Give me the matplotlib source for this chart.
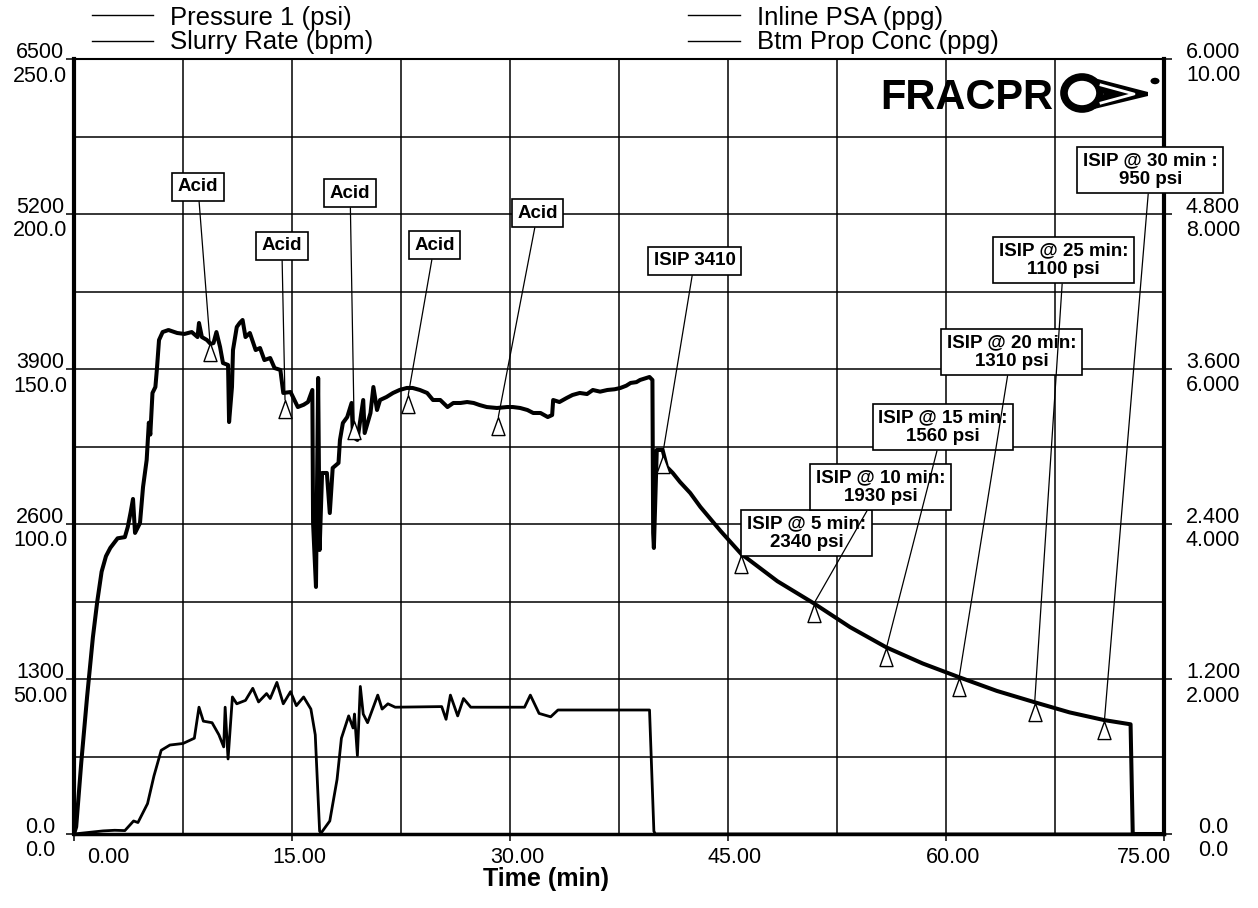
import numpy as np
import matplotlib
matplotlib.use('Agg')
import matplotlib.pyplot as plt
from matplotlib.lines import Line2D
from matplotlib.patches import Polygon, Ellipse, Circle
from matplotlib.path import Path

plt.rcParams['font.family'] = ['Liberation Sans', 'DejaVu Sans']

# ---- data ----
# Pressure 1 (psi) vs time (min)
p_time = [0.0, 0.15, 0.5, 0.9, 1.3, 1.6, 1.9, 2.2, 2.5, 3.0, 3.5, 3.7, 3.9, 4.06,
          4.2, 4.54, 4.75, 5.0, 5.15, 5.25, 5.4, 5.6, 5.7, 5.85, 6.1, 6.5, 7.1,
          7.6, 8.1, 8.5, 8.6, 8.8, 9.15, 9.4, 9.6, 9.8, 10.05, 10.25, 10.6, 10.67,
          10.87, 10.94, 11.2, 11.4, 11.6, 11.8, 12.1, 12.5, 12.8, 13.1, 13.5, 13.8,
          14.2, 14.4, 14.9, 15.4, 15.8, 16.1, 16.4, 16.45, 16.65, 16.8, 16.9, 17.07,
          17.4, 17.6, 17.8, 18.2, 18.3, 18.5, 18.8, 19.1, 19.2, 19.5, 19.7, 19.9,
          20.0, 20.4, 20.6, 20.85, 21.06, 21.5, 21.95, 22.4, 22.9, 23.3, 23.8, 24.3,
          24.7, 25.2, 25.7, 26.1, 26.6, 27.05, 27.5, 27.9, 28.4, 29.1, 29.8, 30.2,
          30.7, 31.2, 31.6, 32.1, 32.6, 32.9, 32.97, 33.4, 33.9, 34.3, 34.8, 35.3,
          35.7, 36.2, 36.7, 37.2, 37.6, 38.0, 38.3, 38.7, 38.95, 39.4, 39.6, 39.8,
          39.85, 39.9, 40.1, 40.5, 40.8, 41.2, 41.7, 42.4, 43.1, 44.5, 45.9, 48.4,
          50.9, 53.4, 55.9, 58.4, 60.9, 63.5, 66.1, 68.5, 70.9, 72.7, 72.85, 75.0]
p_psi = [0, 60, 600, 1150, 1650, 1950, 2200, 2330, 2400, 2480, 2490, 2575, 2700, 2810,
         2525, 2608, 2910, 3137, 3450, 3350, 3699, 3749, 3892, 4143, 4210, 4227, 4202,
         4194, 4210, 4168, 4286, 4168, 4143, 4110, 4118, 4210, 4085, 3950, 3934, 3455,
         3749, 4059, 4252, 4286, 4311, 4168, 4202, 4059, 4076, 3975, 3992, 3908,
         3892, 3699, 3707, 3581, 3600, 3623, 3724, 2609, 2072, 3825, 2382, 3028,
         3028, 2692, 3070, 3112, 3305, 3447, 3497, 3615, 3330, 3305, 3472, 3640,
         3363, 3531, 3749, 3556, 3640, 3665, 3699, 3724, 3741, 3741, 3724, 3699,
         3640, 3640, 3581, 3615, 3615, 3623, 3615, 3598, 3581, 3573, 3581, 3581,
         3573, 3556, 3531, 3531, 3497, 3514, 3640, 3623, 3657, 3682, 3699, 3690,
         3724, 3710, 3724, 3730, 3741, 3760, 3783, 3790, 3808, 3825, 3833, 3808,
         2525, 2399, 3221, 3221, 3078, 3028, 2952, 2860, 2743, 2540, 2350, 2120,
         1935, 1735, 1565, 1430, 1315, 1200, 1105, 1020, 955, 920, 0, 0]
assert len(p_time) == len(p_psi)

# Slurry Rate (bpm)
r_time = [0.0, 1.0, 2.0, 2.8, 3.5, 4.1, 4.4, 5.06, 5.5, 6.0, 6.6, 7.5, 8.28, 8.6, 8.9,
          9.5, 9.97, 10.3, 10.4, 10.6, 10.9, 11.2, 11.8, 12.3, 12.7, 13.25, 13.5,
          13.96, 14.4, 14.9, 15.3, 15.8, 16.3, 16.6, 16.9, 17.0, 17.6, 18.1, 18.4,
          18.9, 19.2, 19.3, 19.5, 19.7, 19.9, 20.2, 20.9, 21.2, 21.6, 22.1, 25.3,
          25.6, 25.9, 26.4, 26.8, 27.3, 31.0, 31.4, 32.0, 32.8, 33.3, 39.6, 39.9,
          40.0, 75.0]
r_bpm = [0, 0.5, 1.0, 1.2, 1.1, 4.2, 3.7, 9.8, 18.7, 27.0, 28.7, 29.2, 30.9, 40.9, 36.4,
         35.9, 32.0, 28.1, 40.9, 24.2, 44.2, 42.0, 43.1, 47.0, 42.6, 45.3, 43.7,
         48.9, 42.0, 45.9, 41.4, 44.2, 40.3, 32.0, 0.9, 0.3, 4.2, 17.6, 30.9,
         38.1, 34.2, 38.7, 25.3, 47.6, 38.7, 35.9, 44.8, 40.3, 42.0, 40.9, 41.1,
         37.0, 44.8, 38.1, 43.7, 40.9, 40.9, 44.8, 38.9, 37.8, 40.0, 40.0, 0.9,
         0, 0]
assert len(r_time) == len(r_bpm)

# Inline PSA and Btm Prop Conc stay at zero for the whole job
psa_time = [0.0, 75.0]
psa_ppg = [0.0, 0.0]
bpc_time = [0.0, 75.0]
bpc_ppg = [0.0, 0.0]

# event markers
acid_t = [9.36, 14.52, 19.27, 23.0, 29.2]
acid_p = [4119, 3641, 3465, 3683, 3500]
acid_box = [(8.53, 5427), (14.3, 4932), (19.0, 5376), (24.8, 4940), (31.9, 5208)]

isip_t = [40.5, 45.9, 50.9, 55.9, 60.9, 66.1, 70.9]
isip_p = [3180, 2340, 1930, 1560, 1310, 1100, 950]
isip_labels = ['ISIP 3410', 'ISIP @ 5 min:\n2340 psi', 'ISIP @ 10 min:\n1930 psi',
               'ISIP @ 15 min:\n1560 psi', 'ISIP @ 20 min:\n1310 psi',
               'ISIP @ 25 min:\n1100 psi', 'ISIP @ 30 min :\n950 psi']
isip_box = [(42.7, 4806), (50.4, 2525), (55.5, 2910), (59.8, 3414), (64.5, 4043),
            (68.1, 4814), (74.05, 5569)]

# axis ticks
x_major = [0, 15, 30, 45, 60, 75]
x_labels = ['0.00', '15.00', '30.00', '45.00', '60.00', '75.00']
x_grid = [7.5, 22.5, 37.5, 52.5, 67.5]
p_ticks = [0, 1300, 2600, 3900, 5200, 6500]
p_labels = ['0.0', '1300', '2600', '3900', '5200', '6500']
r_ticks = [0, 50, 100, 150, 200, 250]
r_labels = ['0.0', '50.00', '100.0', '150.0', '200.0', '250.0']
psa_ticks = [0, 1.2, 2.4, 3.6, 4.8, 6.0]
psa_labels = ['0.0', '1.200', '2.400', '3.600', '4.800', '6.000']
bpc_ticks = [0, 2, 4, 6, 8, 10]
bpc_labels = ['0.0', '2.000', '4.000', '6.000', '8.000', '10.00']

# ---- figure ----
W, H = 1258, 908
fig = plt.figure(figsize=(W / 100, H / 100), dpi=100)


def fx(px):
    return px / W


def fy(py):
    return 1 - py / H


ax = fig.add_axes([fx(74), fy(834), fx(1164) - fx(74), fy(59) - fy(834)])
ax_rate = ax.twinx()
ax_psa = ax.twinx()
ax_bpc = ax.twinx()

ax.set_xlim(0, 75)
ax.set_ylim(0, 6500)
ax_rate.set_ylim(0, 250)
ax_psa.set_ylim(0, 6)
ax_bpc.set_ylim(0, 10)
for a in (ax_rate, ax_psa, ax_bpc):
    a.axis('off')

ax.set_xticks(x_major, labels=[''] * len(x_major))
ax.set_xticks(x_grid, minor=True)
ax.set_yticks(p_ticks, labels=[''] * len(p_ticks))
ax.set_yticks([650, 1950, 3250, 4550, 5850], minor=True)
ax.grid(True, which='both', color='black', linewidth=1.1)
ax.tick_params(which='minor', length=0)
ax.tick_params(axis='y', which='major', left=True, right=True, length=6, width=1.1)
ax.tick_params(axis='x', which='major', length=5, width=1.1)
for side, lw in (('left', 3.0), ('right', 3.0), ('bottom', 2.5), ('top', 1.5)):
    ax.spines[side].set_linewidth(lw)

# curves
ax.plot(p_time, p_psi, color='black', lw=2.9, solid_joinstyle='round', zorder=3)
ax_rate.plot(r_time, r_bpm, color='black', lw=2.0, solid_joinstyle='round')
ax_psa.plot(psa_time, psa_ppg, color='black', lw=2.0, clip_on=False)
ax_bpc.plot(bpc_time, bpc_ppg, color='black', lw=2.0, clip_on=False)

# open triangles with apex on the curve
tri = Path([(0, 0), (-0.36, -1), (0.36, -1), (0, 0)],
           [Path.MOVETO, Path.LINETO, Path.LINETO, Path.CLOSEPOLY])
mk = dict(linestyle='none', marker=tri, markersize=26, markerfacecolor='white',
          markeredgecolor='black', markeredgewidth=1.0, zorder=5)
ax.plot(acid_t, acid_p, **mk)
ax.plot(isip_t, isip_p, **mk)

box = dict(boxstyle='square,pad=0.3', fc='white', ec='black', lw=1.2)
leader = dict(arrowstyle='-', color='black', lw=0.9, shrinkA=0, shrinkB=0)
for t, p, pos in zip(acid_t, acid_p, acid_box):
    ax.annotate('Acid', xy=(t, p), xytext=pos, ha='center', va='center',
                fontsize=13.5, fontweight='bold', bbox=box, arrowprops=leader, zorder=6)
for t, p, pos, lbl in zip(isip_t, isip_p, isip_box, isip_labels):
    ax.annotate(lbl, xy=(t, p), xytext=pos, ha='center', va='center',
                multialignment='center', fontsize=13.5, fontweight='bold',
                linespacing=1.1, bbox=box, arrowprops=leader, zorder=6)

# stacked axis labels
lx = (40 - 74) / (1164 - 74)
rx = (1213 - 74) / (1164 - 74)
for a, ticks, labels, x, dy in ((ax, p_ticks, p_labels, lx, 0.7),
                                (ax_rate, r_ticks, r_labels, lx, -16.2),
                                (ax_psa, psa_ticks, psa_labels, rx, 0.7),
                                (ax_bpc, bpc_ticks, bpc_labels, rx, -16.2)):
    for v, s in zip(ticks, labels):
        a.annotate(s, xy=(x, v), xycoords=('axes fraction', 'data'),
                   xytext=(0, dy), textcoords='offset points',
                   ha='center', va='baseline', fontsize=15.5)

for i, (t, s) in enumerate(zip(x_major, x_labels)):
    if i == 0:
        ha, dx = 'left', 9.4
    elif i == len(x_major) - 1:
        ha, dx = 'right', 5.0
    else:
        ha, dx = 'center', 5.0
    ax.annotate(s, xy=(t, 0), xycoords=('data', 'axes fraction'),
                xytext=(dx, -20.9), textcoords='offset points',
                ha=ha, va='baseline', fontsize=15.5)

fig.text(fx(546), fy(886), 'Time (min)', ha='center', va='baseline',
         fontsize=18, fontweight='bold')

# legend
legend_rows = [(92, 153, 170, 15, 25, 'Pressure 1 (psi)'),
               (92, 153, 170, 41, 49, 'Slurry Rate (bpm)'),
               (688, 740, 757, 15, 25, 'Inline PSA (ppg)'),
               (688, 740, 757, 41, 49, 'Btm Prop Conc (ppg)')]
for x0, x1, xt, yl, yt, lbl in legend_rows:
    fig.add_artist(Line2D([fx(x0), fx(x1)], [fy(yl), fy(yl)], color='black', lw=1.0))
    fig.text(fx(xt), fy(yt), lbl, fontsize=18.5, va='baseline')

# FRACPRO logo
fig.text(fx(880), fy(109), 'FRACPR', fontsize=30, fontweight='bold', va='baseline')
fig.add_artist(Ellipse((fx(1082), fy(93)), 36 / W, 32 / H, transform=fig.transFigure,
                       fill=False, ec='black', lw=5.5))
fig.add_artist(Polygon([(fx(1090), fy(77)), (fx(1148), fy(92)), (fx(1148), fy(96)),
                        (fx(1090), fy(110)), (fx(1104), fy(94))],
                       closed=True, transform=fig.transFigure, fc='black', ec='none'))
fig.add_artist(Line2D([fx(1101), fx(1134), fx(1101)], [fy(85), fy(94), fy(103)],
                      color='white', lw=2.0, transform=fig.transFigure))
fig.add_artist(Circle((fx(1155), fy(81)), 4.5 / W, transform=fig.transFigure,
                      fc='black', ec='none'))

fig.savefig('out.png', dpi=100)
